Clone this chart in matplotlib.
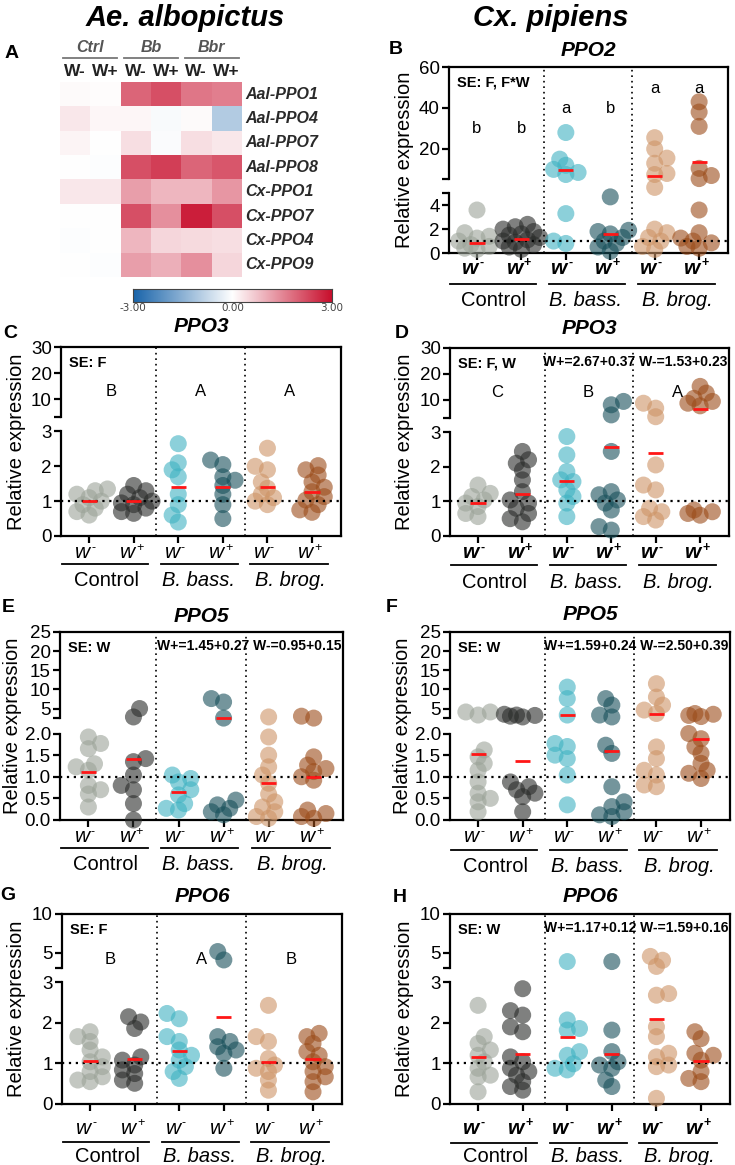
import numpy as np
import matplotlib
matplotlib.use("Agg")
import matplotlib.pyplot as plt
import matplotlib.transforms as mtransforms
from matplotlib.colors import LinearSegmentedColormap
from matplotlib.ticker import NullFormatter

plt.rcParams['font.family'] = ['Liberation Sans', 'DejaVu Sans']

# ------------------------------------------------------------------ data
heat_rows = ['Aal-PPO1', 'Aal-PPO4', 'Aal-PPO7', 'Aal-PPO8',
             'Cx-PPO1', 'Cx-PPO7', 'Cx-PPO4', 'Cx-PPO9']
heat_cols = ['W-', 'W+', 'W-', 'W+', 'W-', 'W+']
heat_groups = ['Ctrl', 'Bb', 'Bbr']
heat_values = [
    [0.05, 0.03, 1.9, 2.2, 1.7, 1.6],
    [0.30, 0.10, 0.10, -0.08, 0.05, -1.0],
    [0.12, 0.00, 0.40, -0.06, 0.40, 0.30],
    [0.02, -0.03, 2.2, 2.4, 1.9, 2.1],
    [0.30, 0.30, 1.2, 0.9, 0.9, 1.3],
    [0.00, 0.00, 2.2, 1.4, 2.8, 2.2],
    [-0.04, 0.00, 0.9, 0.5, 0.45, 0.4],
    [0.00, -0.04, 1.2, 1.0, 1.4, 0.5],
]
cbar_ticks = [-3.0, 0.0, 3.0]

groups = ['Control', 'B. bass.', 'B. brog.']
group_italic = [False, True, True]
wolbachia = ['-', '+', '-', '+', '-', '+']
point_colors = ['#9ba398', '#2a2c2a', '#3fb2c2', '#174f5a', '#cd9466', '#9b4c1a']

# PPO2, Cx. pipiens (B)
ppo2_cx = [
    [3.6, 1.7, 1.4, 1.25, 1.0, 0.7, 0.55, 0.4, 0.3],
    [2.4, 2.2, 2.0, 1.8, 1.6, 1.5, 1.3, 1.1, 1.0, 0.9, 0.7, 0.5, 0.3],
    [28, 15, 12, 10, 8.5, 7.5, 3.3, 1.0, 0.8],
    [4.7, 1.9, 1.8, 1.6, 1.3, 1.0, 0.8, 0.5, 0.15],
    [25.5, 20, 15.5, 13, 8, 7.5, 5.2, 2.0, 1.7, 1.3, 1.0, 0.55, 0.3],
    [43, 38, 31, 10.5, 7, 5.5, 3.6, 1.7, 1.25, 1.0, 0.85, 0.55, 0.4],
]
ppo2_cx_mean = [0.8, 1.2, 9.5, 1.6, 7.0, 13.8]
ppo2_cx_sig = ['b', 'b', 'a', 'b', 'a', 'a']

# PPO3, Ae. albopictus (C)
ppo3_aal = [
    [1.35, 1.3, 1.2, 1.1, 1.0, 0.9, 0.8, 0.7, 0.6],
    [1.45, 1.3, 1.2, 1.1, 1.0, 0.95, 0.9, 0.8, 0.7, 0.65],
    [2.65, 2.1, 1.9, 1.7, 1.2, 0.9, 0.6, 0.4],
    [2.18, 2.05, 1.7, 1.6, 1.45, 1.2, 0.9, 0.5],
    [2.52, 2.0, 1.9, 1.55, 1.37, 1.2, 1.1, 1.0, 0.9],
    [2.02, 1.9, 1.75, 1.55, 1.4, 1.27, 1.13, 1.03, 0.9, 0.75, 0.68],
]
ppo3_aal_mean = [1.0, 1.0, 1.4, 1.42, 1.4, 1.25]
ppo3_aal_sig = ['B', 'A', 'A']

# PPO3, Cx. pipiens (D)
ppo3_cx = [
    [1.47, 1.23, 1.14, 1.04, 0.95, 0.85, 0.65, 0.56],
    [2.44, 2.2, 2.1, 1.9, 1.62, 1.28, 1.04, 0.95, 0.8, 0.65, 0.5, 0.41],
    [2.87, 2.34, 1.86, 1.62, 1.57, 1.33, 1.14, 0.95, 0.56],
    [9.4, 8.1, 4.2, 2.44, 1.28, 1.19, 1.04, 0.95, 0.75, 0.27, 0.17],
    [8.7, 6.8, 3.5, 2.05, 1.47, 1.33, 0.8, 0.7, 0.56, 0.46],
    [15.2, 12.6, 10.6, 9.4, 8.7, 7.7, 0.75, 0.7, 0.65, 0.6],
]
ppo3_cx_mean = [0.95, 1.2, 1.6, 2.58, 2.4, 6.3]
ppo3_cx_sig = ['C', 'B', 'A']

# PPO5, Ae. albopictus (E)
ppo5_aal = [
    [1.92, 1.77, 1.65, 1.3, 1.23, 1.15, 0.8, 0.7, 0.6, 0.3],
    [5.0, 2.8, 1.42, 1.35, 1.04, 0.8, 0.7, 0.38, 0.0],
    [1.04, 0.96, 0.88, 0.7, 0.58, 0.38, 0.27, 0.23],
    [7.6, 6.7, 2.5, 0.46, 0.35, 0.27, 0.19, 0.12],
    [2.8, 1.92, 1.5, 1.23, 1.04, 0.85, 0.6, 0.42, 0.3, 0.19, 0.08, 0.04],
    [3.0, 2.5, 1.46, 1.27, 1.19, 1.12, 1.0, 0.92, 0.23, 0.15, 0.08, 0.04],
]
ppo5_aal_mean = [1.12, 1.4, 0.65, 2.6, 0.85, 1.0]

# PPO5, Cx. pipiens (F)
ppo5_cx = [
    [4.1, 3.3, 4.1, 1.62, 1.46, 1.31, 1.15, 0.88, 0.62, 0.5, 0.42, 0.19],
    [3.5, 3.3, 3.2, 3.0, 2.8, 0.88, 0.77, 0.7, 0.62, 0.54, 0.19],
    [10.6, 7.6, 3.3, 1.77, 1.7, 1.5, 1.42, 1.04, 0.35],
    [7.6, 5.9, 3.3, 2.8, 1.73, 1.54, 0.77, 0.42, 0.31, 0.19, 0.12, 0.08],
    [11.5, 8.0, 5.9, 4.6, 3.7, 1.69, 1.42, 1.15, 1.04, 0.81, 0.77],
    [3.7, 3.5, 3.2, 2.9, 2.0, 1.88, 1.69, 1.54, 1.31, 1.15, 1.08, 0.96],
]
ppo5_cx_mean = [1.52, 1.37, 3.4, 1.6, 3.5, 1.87]

# PPO6, Ae. albopictus (G)
ppo6_aal = [
    [1.78, 1.66, 1.54, 1.33, 1.16, 1.04, 0.92, 0.8, 0.67, 0.59, 0.55],
    [2.15, 2.02, 1.86, 1.16, 1.08, 0.96, 0.84, 0.75, 0.59, 0.51],
    [2.23, 2.1, 1.66, 1.54, 1.33, 1.2, 1.08, 0.92, 0.8, 0.63],
    [5.13, 4.04, 1.66, 1.54, 1.41, 1.33, 1.25, 0.88],
    [2.43, 1.66, 1.54, 1.12, 0.96, 0.88, 0.8, 0.59, 0.34],
    [1.74, 1.66, 1.49, 1.29, 1.2, 1.04, 0.92, 0.8, 0.67, 0.55, 0.3],
]
ppo6_aal_mean = [1.07, 1.12, 1.3, 2.15, 1.04, 1.1]
ppo6_aal_sig = ['B', 'A', 'B']

# PPO6, Cx. pipiens (H)
ppo6_cx = [
    [2.43, 1.66, 1.49, 1.33, 1.2, 1.04, 0.88, 0.71, 0.67, 0.3],
    [2.84, 2.3, 2.19, 1.9, 1.78, 1.16, 1.04, 0.88, 0.8, 0.71, 0.55, 0.43, 0.34],
    [3.83, 2.07, 1.86, 1.82, 1.29, 1.2, 0.99, 0.88, 0.84],
    [3.83, 1.82, 1.29, 1.04, 0.96, 0.88, 0.59, 0.43],
    [4.5, 4.0, 3.2, 2.72, 2.68, 1.9, 1.66, 1.25, 1.16, 0.96, 0.92, 0.14],
    [1.78, 1.61, 1.25, 1.2, 1.08, 0.8, 0.63, 0.55],
]
ppo6_cx_mean = [1.15, 1.22, 1.65, 1.22, 2.1, 1.07]

# ------------------------------------------------------------------ figure
W, H = 735, 1165
fig = plt.figure(figsize=(W / 100, H / 100), dpi=100)


def fx(px):
    return px / W


def fy(py):
    return 1 - py / H


def add_ax(x0, y0, x1, y1):
    return fig.add_axes([fx(x0), fy(y1), (x1 - x0) / W, (y1 - y0) / H])


# column headers
fig.text(fx(185), fy(18), 'Ae. albopictus', ha='center', va='center',
         fontsize=21, fontweight='bold', style='italic')
fig.text(fx(551), fy(18), 'Cx. pipiens', ha='center', va='center',
         fontsize=21, fontweight='bold', style='italic')

# ------------------------------------------------------------------ heatmap (A)
cmap = LinearSegmentedColormap.from_list('bwr_c', ['#1964aa', '#ffffff', '#c80f2d'])
axh = add_ax(60, 82, 242, 277)
axh.imshow(np.array(heat_values), cmap=cmap, vmin=-3, vmax=3, aspect='auto',
           interpolation='nearest')
axh.set_xticks([])
axh.set_yticks([])
for s in axh.spines.values():
    s.set_visible(False)
for r, name in enumerate(heat_rows):
    axh.text(1.02, 1 - (r + 0.5) / len(heat_rows), name,
             transform=axh.transAxes, ha='left', va='center', fontsize=11.5,
             fontweight='bold', style='italic', color='#2a2a2a')
for c, name in enumerate(heat_cols):
    fig.text(fx(60 + 30.3 * (c + 0.5)), fy(72), name, ha='center', va='center',
             fontsize=12.5, fontweight='bold', color='#222222')
for g, name in enumerate(heat_groups):
    cx = 60 + 60.6 * (g + 0.5)
    fig.text(fx(cx), fy(47), name, ha='center', va='center', fontsize=11.5,
             fontweight='bold', style='italic', color='#555555')
    fig.add_artist(plt.Line2D([fx(cx - 27), fx(cx + 27)], [fy(58), fy(58)],
                              color='#777777', lw=1.3))
fig.text(fx(12), fy(53), 'A', ha='center', va='center', fontsize=14, fontweight='bold')

axc = add_ax(133, 289, 332, 302)
grad = np.linspace(cbar_ticks[0], cbar_ticks[-1], 256)[None, :]
axc.imshow(grad, cmap=cmap, vmin=-3, vmax=3, aspect='auto',
           extent=[cbar_ticks[0], cbar_ticks[-1], 0, 1])
axc.set_yticks([])
axc.set_xticks([])
for s in axc.spines.values():
    s.set_linewidth(0.8)
    s.set_color('#444444')
for t in cbar_ticks:
    axc.annotate('%.2f' % t, xy=(t, 0), xycoords=('data', 'axes fraction'),
                 xytext=(0, -6), textcoords='offset pixels', ha='center',
                 va='center', fontsize=7.5, color='#444444', family='DejaVu Sans')


# ------------------------------------------------------------------ scatter panels
def make_break_scale(lo, hi, top, f_lo, f_gap):
    xs = np.array([0.0, lo, hi, top])
    ys = np.array([0.0, f_lo, f_lo + f_gap, 1.0])
    s0 = f_lo / lo
    s1 = (1 - f_lo - f_gap) / (top - hi)

    def fwd(y):
        y = np.asarray(y, dtype=float)
        out = np.interp(y, xs, ys)
        out = np.where(y < 0, y * s0, out)
        out = np.where(y > top, 1 + (y - top) * s1, out)
        return out

    def inv(t):
        t = np.asarray(t, dtype=float)
        out = np.interp(t, ys, xs)
        out = np.where(t < 0, t / s0, out)
        out = np.where(t > 1, top + (t - 1) / s1, out)
        return out
    return fwd, inv


def swarm(ax, xc, yvals, d_px=17.0, min_frac=0.5, step_frac=0.36, kmax=3):
    yv = np.asarray(yvals, float)
    pts = ax.transData.transform(np.column_stack([np.full(len(yv), xc), yv]))
    ypx = pts[:, 1]
    ppu = (ax.transData.transform([[xc + 1, 1.0]])[0, 0]
           - ax.transData.transform([[xc, 1.0]])[0, 0])
    step = d_px * step_frac
    order = np.argsort(ypx)
    placed = []
    offs = np.zeros(len(yv))
    flip = 1
    for i in order:
        cands = [0.0]
        for k in range(1, kmax + 1):
            cands += [flip * k * step, -flip * k * step]
        flip = -flip
        best, best_d = 0.0, -1
        for c in cands:
            if not placed:
                best = c
                break
            dmin = min(np.hypot(c - px, ypx[i] - py) for px, py in placed)
            if dmin >= min_frac * d_px:
                best = c
                break
            if dmin > best_d:
                best_d, best = dmin, c
        placed.append((best, ypx[i]))
        offs[i] = best / ppu
    return offs


def wlabel(ax, x, off, sign, bold):
    tr = mtransforms.offset_copy(ax.get_xaxis_transform(), fig=fig, x=0, y=-off,
                                 units='dots')
    wt = 'bold' if bold else 'normal'
    ax.text(x + 0.03, 0, 'w', transform=tr, ha='right', va='center', fontsize=15,
            style='italic', fontweight=wt, clip_on=False)
    tr2 = mtransforms.offset_copy(ax.get_xaxis_transform(), fig=fig, x=1,
                                  y=-off + 5, units='dots')
    ax.text(x + 0.03, 0, sign, transform=tr2, ha='left', va='center', fontsize=9,
            fontweight='bold' if bold else 'normal', clip_on=False)


def panel(box, data, means, title, title_y, letter, letter_xy, brk, ticks_lo,
          ticks_hi, fmt_lo, se_text, w_text, sig, sig_x, sig_y, bold_w,
          offs, ylab_x):
    x0, y0, x1, y1 = box
    ax = add_ax(x0, y0, x1, y1)
    lo, hi, top, f_lo, f_gap = brk
    fwd, inv = make_break_scale(lo, hi, top, f_lo, f_gap)
    ax.set_yscale('function', functions=(fwd, inv))
    ax.set_ylim(0, top)
    ax.set_xlim(-0.63, 5.65)
    ticks = list(ticks_lo) + list(ticks_hi)
    ax.set_yticks(ticks)
    ax.set_yticklabels([fmt_lo.format(v) for v in ticks_lo] +
                       ['{:g}'.format(v) for v in ticks_hi])
    ax.set_yticks([lo, hi], minor=True)
    ax.yaxis.set_minor_formatter(NullFormatter())
    ax.set_xticks(range(6))
    ax.set_xticklabels([])
    ax.tick_params(axis='y', which='both', length=5, width=1.6, labelsize=13.5, pad=1.5)
    ax.tick_params(axis='x', length=5, width=1.6)
    ax.spines['left'].set_visible(False)
    for s in ['top', 'right', 'bottom']:
        ax.spines[s].set_linewidth(1.6)
    ytr = ax.get_yaxis_transform()
    ax.plot([0, 0], [0, lo], transform=ytr, color='k', lw=1.6, clip_on=False,
            solid_capstyle='projecting')
    ax.plot([0, 0], [hi, top], transform=ytr, color='k', lw=1.6, clip_on=False,
            solid_capstyle='projecting')

    for xv in (1.5, 3.5):
        ax.axvline(xv, color='k', lw=1.2, ls=(0, (1, 2.3)), zorder=4)
    ax.axhline(1.0, color='k', lw=1.6, ls=(0, (1, 2.1)), zorder=4)

    for i in range(6):
        xo = swarm(ax, i, data[i])
        ax.scatter(i + xo, data[i], s=150, color=point_colors[i], alpha=0.6,
                   edgecolors='none', zorder=3, clip_on=False)
        ax.plot([i - 0.17, i + 0.17], [means[i], means[i]], color='#ff1616',
                lw=2.0, zorder=5, solid_capstyle='butt')

    if se_text:
        ax.text(0.03, 0.915, se_text, transform=ax.transAxes, ha='left',
                va='center', fontsize=10.5, fontweight='bold')
    if w_text:
        ax.text(0.995, 0.925, w_text, transform=ax.transAxes, ha='right',
                va='center', fontsize=10, fontweight='bold')
    for s_lab, sx, sy in zip(sig, sig_x, sig_y):
        ax.text(sx, sy, s_lab, ha='center', va='center', fontsize=12)

    w_off, line_off, name_off = offs
    for i in range(6):
        wlabel(ax, i, w_off, wolbachia[i], bold_w)
    ltr = mtransforms.offset_copy(ax.get_xaxis_transform(), fig=fig, x=0,
                                  y=-line_off, units='dots')
    ntr = mtransforms.offset_copy(ax.get_xaxis_transform(), fig=fig, x=0,
                                  y=-name_off, units='dots')
    spans = [(-0.6, 1.33), (1.62, 3.33), (3.62, 5.36)]
    centers = [0.38, 2.45, 4.52]
    for g in range(3):
        ax.plot(spans[g], [0, 0], transform=ltr, color='k', lw=1.3, clip_on=False)
        ax.text(centers[g], 0, groups[g], transform=ntr, ha='center', va='center',
                fontsize=14.5, style='italic' if group_italic[g] else 'normal',
                clip_on=False)

    fig.text(fx((x0 + x1) / 2), fy(title_y), title, ha='center', va='center',
             fontsize=15, fontweight='bold', style='italic')
    fig.text(fx(letter_xy[0]), fy(letter_xy[1]), letter, ha='center', va='center',
             fontsize=14, fontweight='bold')
    fig.text(fx(ylab_x), fy((y0 + y1) / 2), 'Relative expression', rotation=90,
             ha='center', va='center', fontsize=14.5)
    return ax


grp_x = [0.5, 2.5, 4.5]
cat_x = [0, 1, 2, 3, 4, 5]

panel((449, 67, 728, 253), ppo2_cx, ppo2_cx_mean, 'PPO2', 50, 'B', (396, 50),
      (5, 5.5, 60, 0.321, 0.079), [0, 2, 4], [20, 40, 60], '{:g}',
      'SE: F, F*W', None, ppo2_cx_sig, cat_x, [30, 30, 39.5, 39.5, 49.5, 49.5],
      True, (15, 31, 47), 405)

panel((61, 347, 341, 536), ppo3_aal, ppo3_aal_mean, 'PPO3', 327, 'C', (10, 333),
      (3, 3.1, 30, 0.553, 0.076), [0, 1, 2, 3], [10, 20, 30], '{:g}',
      'SE: F', None, ppo3_aal_sig, grp_x, [13, 13, 13], False, (17, 28, 45), 17)

panel((450, 348, 729, 536), ppo3_cx, ppo3_cx_mean, 'PPO3', 328, 'D', (402, 333),
      (3, 3.1, 30, 0.553, 0.076), [0, 1, 2, 3], [10, 20, 30], '{:g}',
      'SE: F, W', 'W+=2.67+0.37 W-=1.53+0.23', ppo3_cx_sig, [0.43, 2.48, 4.5],
      [13, 13, 13], True, (17, 29, 46), 405)

panel((60, 632, 343, 820), ppo5_aal, ppo5_aal_mean, 'PPO5', 616, 'E', (8, 608),
      (2, 2.4, 25, 0.46, 0.08), [0.0, 0.5, 1.0, 1.5, 2.0], [5, 10, 15, 20, 25],
      '{:.1f}', 'SE: W', 'W+=1.45+0.27 W-=0.95+0.15', [], [], [], False,
      (17, 28, 45), 13)

panel((450, 632, 730, 820), ppo5_cx, ppo5_cx_mean, 'PPO5', 615, 'F', (392, 608),
      (2, 2.4, 25, 0.46, 0.08), [0.0, 0.5, 1.0, 1.5, 2.0], [5, 10, 15, 20, 25],
      '{:.1f}', 'SE: W', 'W+=1.59+0.24 W-=2.50+0.39', [], [], [], False,
      (17, 30, 47), 402)

panel((62, 914, 342, 1104), ppo6_aal, ppo6_aal_mean, 'PPO6', 897, 'G', (8, 895),
      (3, 3.05, 10, 0.641, 0.077), [0, 1, 2, 3], [5, 10], '{:g}',
      'SE: F', None, ppo6_aal_sig, [0.46, 2.5, 4.5], [4.05, 4.05, 4.05], False,
      (24, 38, 53), 17)

panel((450, 914, 730, 1104), ppo6_cx, ppo6_cx_mean, 'PPO6', 897, 'H', (400, 897),
      (3, 3.05, 10, 0.641, 0.077), [0, 1, 2, 3], [5, 10], '{:g}',
      'SE: W', 'W+=1.17+0.12 W-=1.59+0.16', [], [], [], True,
      (24, 39, 53), 405)

fig.savefig('out.png', dpi=100)
